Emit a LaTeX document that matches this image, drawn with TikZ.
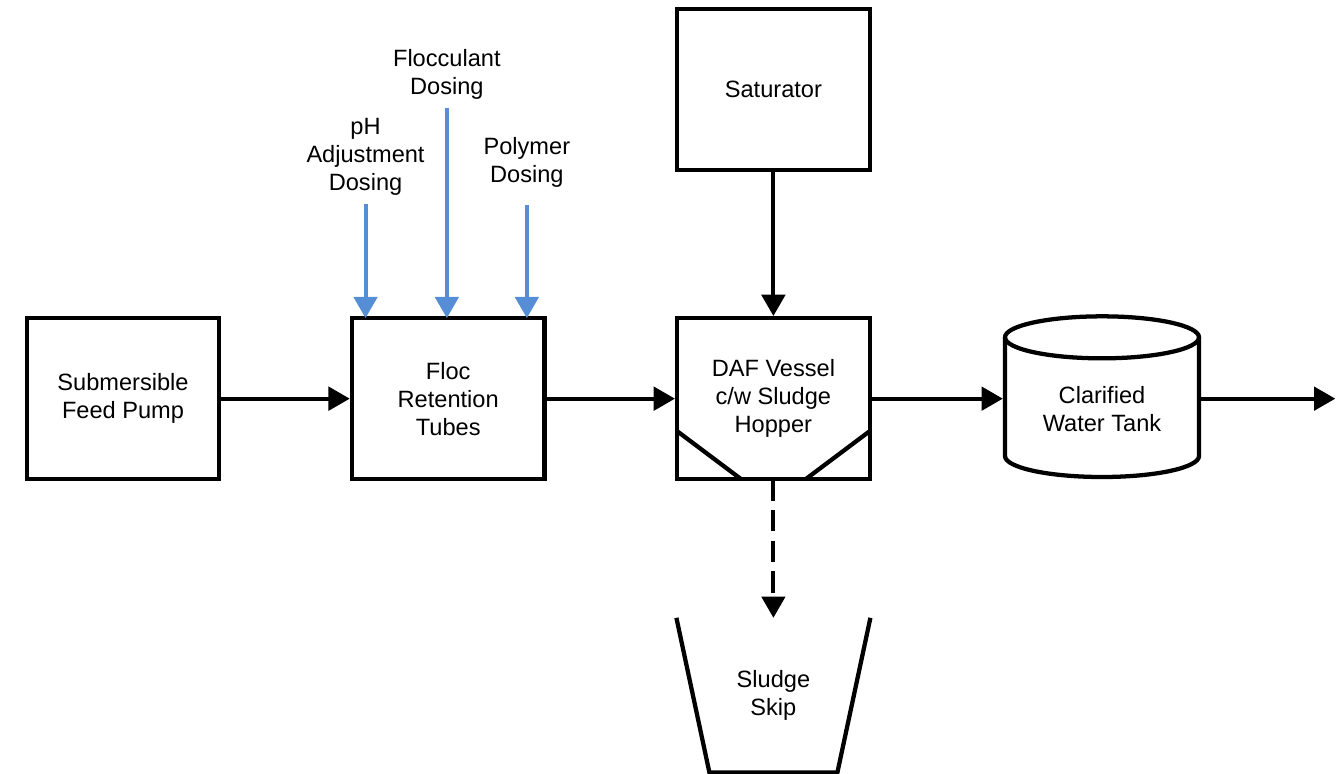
\documentclass[tikz,border=0pt]{standalone}
\usepackage{fontspec}
\setmainfont{Liberation Sans}
\usetikzlibrary{arrows.meta}
\definecolor{dosingblue}{RGB}{85,142,213}

\begin{document}
\begin{tikzpicture}[
    every node/.style={outer sep=0pt,align=center,font=\fontsize{17.7}{21}\selectfont},
    procbox/.style={draw,line width=3.2pt,minimum width=144.4pt,minimum height=120.75pt},
    flowline/.style={line width=3pt,-{Triangle[length=16pt,width=17.5pt]},shorten >=1.6pt},
    dosearrow/.style={flowline,draw=dosingblue,shorten >=0pt},
    dosetext/.style={inner sep=2pt}]
    \useasboundingbox (0,0) rectangle (1004.25pt,-580.5pt);

    % main row
    \node[procbox] (pump) at (92.25pt,-299pt) {Submersible\\Feed Pump};
    \node[procbox] (floc) at ([xshift=99.5pt]pump.east) [anchor=west] {Floc\\Retention\\Tubes};
    \node[procbox] (daf) at ([xshift=99.5pt]floc.east) [anchor=west] {DAF Vessel\\c/w Sludge\\Hopper};
    \node[minimum width=145.5pt,minimum height=120pt] (tank) at ([xshift=101.5pt,yshift=-7.5pt]daf.east) [anchor=west] {Clarified\\Water Tank};
    \coordinate (outlet) at (1001.5pt,-299pt);

    % saturator and sludge skip
    \node[procbox] (sat) at ([yshift=111pt]daf.north) [anchor=south] {Saturator};
    \node[minimum width=145.5pt,minimum height=116pt] (skip) at ([yshift=-104pt]daf.south) [anchor=north] {Sludge\\Skip};

    % dosing labels
    \node[dosetext] (phdose) at ([xshift=-62pt,yshift=90pt]floc.north) [anchor=south] {pH\\Adjustment\\Dosing};
    \node[dosetext] (flocdose) at ([xshift=-1pt,yshift=162pt]floc.north) [anchor=south] {Flocculant\\Dosing};
    \node[dosetext] (polydose) at ([xshift=59pt,yshift=95.75pt]floc.north) [anchor=south] {Polymer\\Dosing};

    % hopper
    \draw[line width=3.2pt] ([yshift=36pt]daf.south west) -- ([xshift=48pt]daf.south west);
    \draw[line width=3.2pt] ([yshift=36pt]daf.south east) -- ([xshift=-48pt]daf.south east);

    % tank outline
    \draw[line width=3.2pt] ([yshift=53.5pt]tank.center) ellipse [x radius=72.75pt,y radius=15.75pt];
    \draw[line width=3.2pt] ([shift={(-72.75pt,53.5pt)}]tank.center) -- ([shift={(-72.75pt,-35.5pt)}]tank.center)
        arc [start angle=180,end angle=360,x radius=72.75pt,y radius=15.75pt] -- ([shift={(72.75pt,53.5pt)}]tank.center);

    % skip outline
    \draw[line width=3.2pt] (skip.north west) -- ([xshift=24.75pt]skip.south west)
        -- ([xshift=-24.75pt]skip.south east) -- (skip.north east);

    % flows
    \draw[flowline] (pump) -- (floc);
    \draw[flowline] (floc) -- (daf);
    \draw[flowline] (daf) -- (daf -| tank.west);
    \draw[flowline,shorten >=0pt] (daf -| tank.east) -- (outlet);
    \draw[flowline] (sat) -- (daf);
    \draw[flowline,dash pattern=on 16pt off 7pt,shorten >=0pt] (daf) -- (skip);

    % dosing
    \draw[dosearrow] ([yshift=-4.5pt]phdose.south) -- (phdose.south |- floc.north);
    \draw[dosearrow] ([yshift=-4.5pt]flocdose.south) -- (flocdose.south |- floc.north);
    \draw[dosearrow] ([yshift=-11pt]polydose.south) -- (polydose.south |- floc.north);
\end{tikzpicture}
\end{document}
